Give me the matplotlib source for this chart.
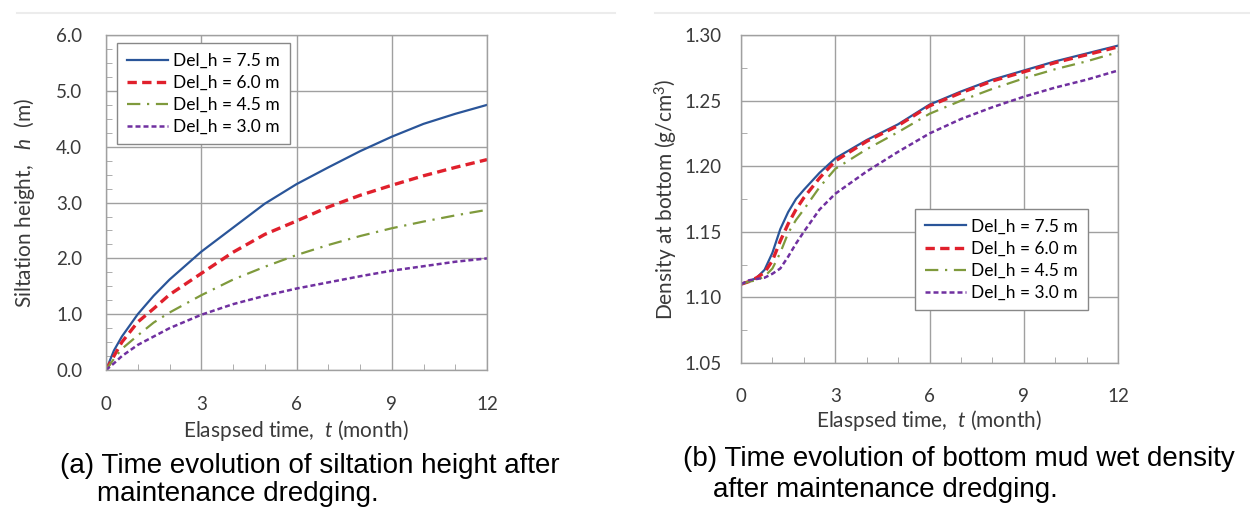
import numpy as np
import matplotlib
matplotlib.use("Agg")
import matplotlib.pyplot as plt
from matplotlib.lines import Line2D
from matplotlib.ticker import MultipleLocator, FormatStrFormatter

plt.rcParams['font.family'] = ['Lato', 'DejaVu Sans']
plt.rcParams['mathtext.fontset'] = 'custom'
plt.rcParams['mathtext.it'] = 'Lato:italic'
plt.rcParams['mathtext.rm'] = 'Lato'

# elapsed time (month)
t = [0, 0.25, 0.5, 1, 1.5, 2, 3, 4, 5, 6, 7, 8, 9, 10, 11, 12]
# (a) siltation height (m)
h_75 = [0, 0.35, 0.60, 1.00, 1.33, 1.62, 2.12, 2.55, 2.98, 3.33, 3.63, 3.92, 4.18, 4.41, 4.59, 4.75]
h_60 = [0, 0.25, 0.50, 0.86, 1.10, 1.35, 1.73, 2.11, 2.43, 2.67, 2.92, 3.13, 3.31, 3.48, 3.63, 3.77]
h_45 = [0, 0.20, 0.38, 0.62, 0.85, 1.03, 1.34, 1.62, 1.85, 2.06, 2.24, 2.40, 2.54, 2.66, 2.77, 2.87]
h_30 = [0, 0.12, 0.25, 0.45, 0.60, 0.75, 0.99, 1.18, 1.33, 1.46, 1.57, 1.68, 1.78, 1.86, 1.94, 2.00]

# (b) bottom wet density (g/cm3)
t2 = [0, 0.25, 0.5, 0.75, 1, 1.25, 1.5, 1.75, 2, 2.5, 3, 4, 5, 6, 7, 8, 9, 10, 11, 12]
d_75 = [1.110, 1.112, 1.115, 1.121, 1.134, 1.152, 1.165, 1.175, 1.182, 1.195, 1.206, 1.220, 1.232, 1.247, 1.257, 1.266, 1.273, 1.280, 1.286, 1.292]
d_60 = [1.110, 1.112, 1.115, 1.119, 1.128, 1.143, 1.156, 1.167, 1.176, 1.191, 1.204, 1.219, 1.231, 1.246, 1.256, 1.265, 1.272, 1.279, 1.285, 1.291]
d_45 = [1.110, 1.112, 1.113, 1.116, 1.122, 1.134, 1.149, 1.159, 1.167, 1.184, 1.198, 1.213, 1.226, 1.240, 1.250, 1.259, 1.267, 1.274, 1.280, 1.287]
d_30 = [1.110, 1.113, 1.114, 1.115, 1.118, 1.122, 1.131, 1.141, 1.150, 1.167, 1.179, 1.196, 1.211, 1.225, 1.236, 1.245, 1.253, 1.260, 1.266, 1.273]

labels = ['Del_h = 7.5 m', 'Del_h = 6.0 m', 'Del_h = 4.5 m', 'Del_h = 3.0 m']
colors = ['#2a5599', '#e0202c', '#7f9a3c', '#7030a0']
styles = [dict(ls='-', lw=1.6),
          dict(ls=(0, (2.8, 1.6)), lw=2.4),
          dict(ls=(0, (6, 3, 1, 3)), lw=1.6),
          dict(ls=(0, (2, 1.2)), lw=1.8)]

fig = plt.figure(figsize=(12.5, 5.09), dpi=100)
ax1 = fig.add_axes([0.0848, 0.273, 0.3048, 0.658])
ax2 = fig.add_axes([0.5928, 0.287, 0.3016, 0.644])

txt = '#3a3a3a'

# faint frame lines along the top of each panel image
fig.add_artist(Line2D([17 / 1250, 615 / 1250], [1 - 13 / 509] * 2, color='#ececec', lw=1.5))
fig.add_artist(Line2D([655 / 1250, 1250 / 1250], [1 - 13 / 509] * 2, color='#ececec', lw=1.5))


def style_axes(ax):
    ax.grid(True, which='major', color='#a0a0a0', lw=1.0)
    ax.set_axisbelow(True)
    for s in ax.spines.values():
        s.set_color('#a0a0a0')
        s.set_linewidth(1.0)
    ax.tick_params(which='major', length=0, labelsize=13.5, labelcolor=txt)
    ax.tick_params(which='minor', direction='in', length=4, color='#a0a0a0')
    ax.tick_params(axis='x', which='major', pad=18.4)
    ax.set_xlim(0, 12)
    ax.xaxis.set_major_locator(MultipleLocator(3))
    ax.xaxis.set_minor_locator(MultipleLocator(1))


def add_legend(ax, x, y):
    ax.legend(loc='upper left', bbox_to_anchor=(x, y), borderaxespad=0, fontsize=12.5,
              fancybox=False, edgecolor='#888888', framealpha=1, handlelength=2.4,
              handletextpad=0.3, borderpad=0.55, labelspacing=0.35)


for y, lab, c, st in zip([h_75, h_60, h_45, h_30], labels, colors, styles):
    ax1.plot(t, y, color=c, label=lab, **st)
style_axes(ax1)
ax1.set_ylim(0, 6)
ax1.yaxis.set_major_locator(MultipleLocator(1))
ax1.yaxis.set_minor_locator(MultipleLocator(0.25))
ax1.yaxis.set_major_formatter(FormatStrFormatter('%.1f'))
ax1.tick_params(axis='y', which='major', pad=17)
ax1.set_xlabel('Elaspsed time,  $t$ (month)', fontsize=15, color=txt, labelpad=3.7)
ax1.set_ylabel('Siltation height,   $h$  (m)', fontsize=15, color=txt)
ax1.yaxis.set_label_coords((37 - 106) / 381, 0.5)
add_legend(ax1, 0.029, 0.976)

for y, lab, c, st in zip([d_75, d_60, d_45, d_30], labels, colors, styles):
    ax2.plot(t2, y, color=c, label=lab, **st)
style_axes(ax2)
ax2.set_ylim(1.05, 1.30)
ax2.yaxis.set_major_locator(MultipleLocator(0.05))
ax2.yaxis.set_minor_locator(MultipleLocator(0.025))
ax2.yaxis.set_major_formatter(FormatStrFormatter('%.2f'))
ax2.tick_params(axis='y', which='major', pad=13.7)
ax2.set_xlabel('Elaspsed time,  $t$ (month)', fontsize=15, color=txt, labelpad=2)
ax2.set_ylabel('Density at bottom (g/cm$^3$)', fontsize=15, color=txt)
ax2.yaxis.set_label_coords((680 - 741) / 377, 0.5)
add_legend(ax2, 0.4615, 0.4695)

cap = dict(fontsize=20, family=['Liberation Sans', 'DejaVu Sans'], color='black', va='center')
fig.text(60 / 1250, 1 - 466 / 509, '(a) Time evolution of siltation height after', **cap)
fig.text(97 / 1250, 1 - 494 / 509, 'maintenance dredging.', **cap)
fig.text(683 / 1250, 1 - 459 / 509, '(b) Time evolution of bottom mud wet density', **cap)
fig.text(713 / 1250, 1 - 490 / 509, 'after maintenance dredging.', **cap)

fig.savefig('out.png', dpi=100)
